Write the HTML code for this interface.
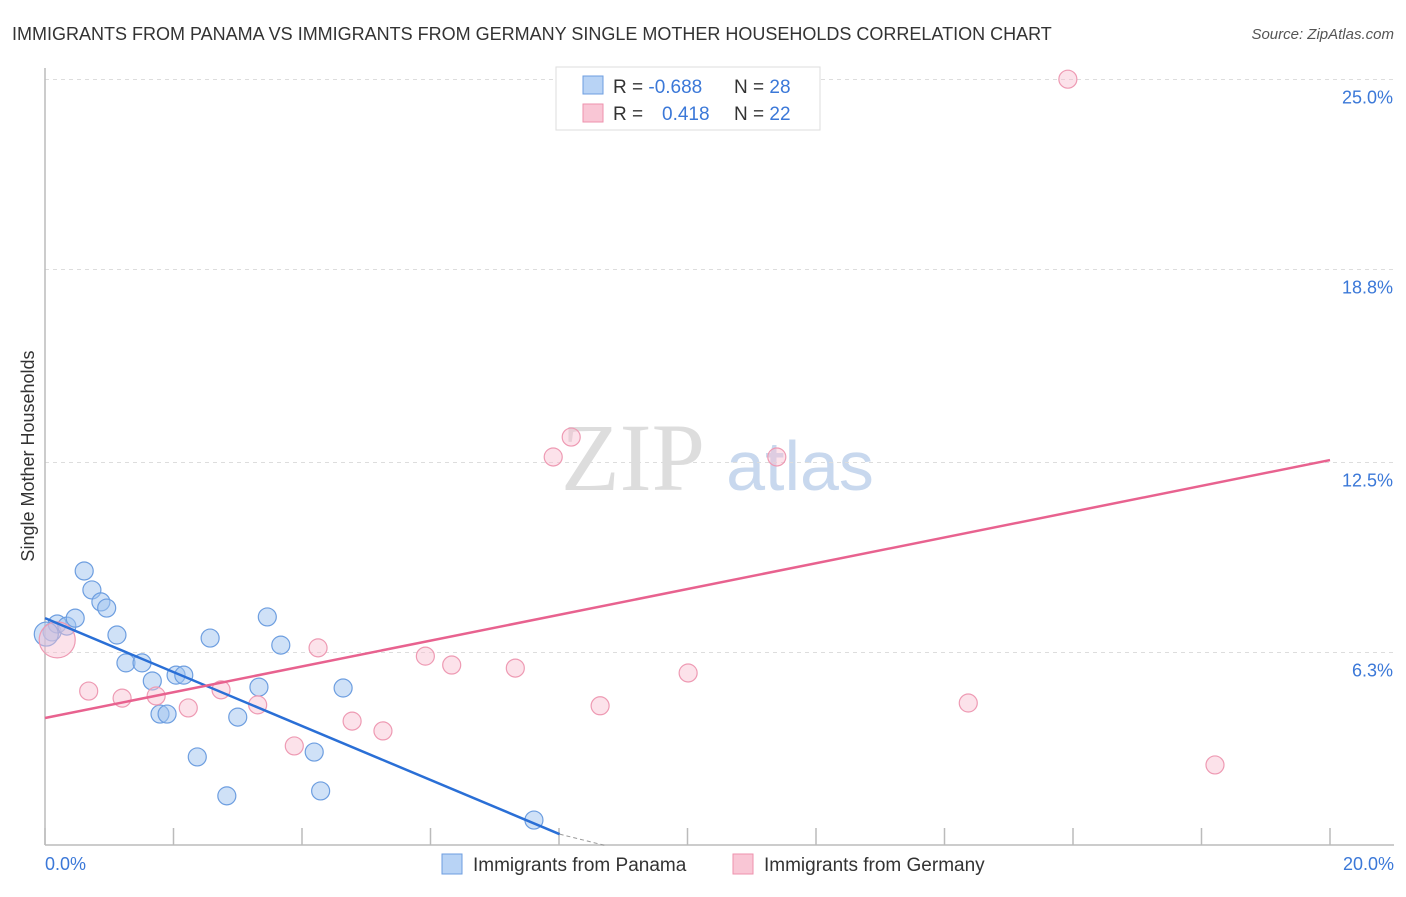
<!DOCTYPE html>
<html><head><meta charset="utf-8"><style>
body{margin:0;background:#fff;font-family:"Liberation Sans",sans-serif}
</style></head><body>
<svg width="1406" height="892" xmlns="http://www.w3.org/2000/svg" font-family="Liberation Sans, sans-serif">
<text x="12" y="40" font-size="18" fill="#333">IMMIGRANTS FROM PANAMA VS IMMIGRANTS FROM GERMANY SINGLE MOTHER HOUSEHOLDS CORRELATION CHART</text>
<text x="1394" y="39" font-size="15" fill="#555" font-style="italic" text-anchor="end">Source: ZipAtlas.com</text>
<text x="633" y="490" font-size="96" fill="#ddd" font-family="Liberation Serif, serif" text-anchor="middle">ZIP</text>
<text x="800" y="490" font-size="70" fill="#c8d8ee" text-anchor="middle">atlas</text>
<g id="grid"></g><g id="axes"></g><g id="pts"></g><g id="lines"></g>
<text transform="translate(34,456) rotate(-90)" font-size="18" fill="#333" text-anchor="middle">Single Mother Households</text>
<text x="45" y="870" font-size="18" fill="#3b78d8">0.0%</text>
<text x="1394" y="870" font-size="18" fill="#3b78d8" text-anchor="end">20.0%</text>
<g>
<rect x="556" y="67" width="264" height="63" fill="#fff" stroke="#ddd"/>
<rect x="583" y="76" width="20" height="18" fill="#b8d3f5" stroke="#6d9ee0"/>
<rect x="583" y="104" width="20" height="18" fill="#f9c6d5" stroke="#ee92ad"/>
<text x="613" y="93" font-size="19" fill="#333">R = <tspan fill="#3b78d8">-0.688</tspan><tspan x="734">N = </tspan><tspan fill="#3b78d8">28</tspan></text>
<text x="613" y="120" font-size="19" fill="#333">R = <tspan x="662" fill="#3b78d8">0.418</tspan><tspan x="734">N = </tspan><tspan fill="#3b78d8">22</tspan></text>
</g>
<g>
<rect x="442" y="854" width="20" height="20" fill="#b8d3f5" stroke="#6d9ee0"/>
<text x="473" y="871" font-size="19" fill="#333">Immigrants from Panama</text>
<rect x="733" y="854" width="20" height="20" fill="#f9c6d5" stroke="#ee92ad"/>
<text x="764" y="871" font-size="19" fill="#333">Immigrants from Germany</text>
</g>
</svg>
<script>
const yTicks=[25.0,18.8,12.5,6.3];
const yTickLabels=["25.0%","18.8%","12.5%","6.3%"];
const xTicks=[0,2,4,6,8,10,12,14,16,18,20];
const panamaX=[0.11,0.19,0.34,0.47,0.61,0.73,0.87,0.96,1.12,1.26,1.51,1.67,1.79,1.90,2.04,2.16,2.37,2.57,2.83,3.00,3.33,3.46,3.67,4.19,4.29,4.64,7.61,0.02];
const panamaY=[6.97,7.23,7.16,7.42,8.96,8.34,7.95,7.75,6.87,5.96,5.96,5.37,4.29,4.29,5.56,5.56,2.89,6.77,1.62,4.19,5.17,7.46,6.54,3.05,1.78,5.14,0.83,6.9];
const germanyX=[0.19,0.68,1.20,1.73,2.23,2.74,3.31,3.88,4.25,4.78,5.26,5.92,6.33,7.32,7.91,8.19,8.64,10.01,11.39,14.37,15.92,18.21];
const germanyY=[6.71,5.04,4.81,4.88,4.49,5.08,4.59,3.25,6.45,4.06,3.74,6.18,5.89,5.79,12.68,13.33,4.56,5.63,12.68,4.65,25.01,2.63];
const panamaTrend=[[0,7.42],[8.01,0.37]];
const panamaTrendExt=[[8.01,0.37],[8.72,0.0]];
const germanyTrend=[[0,4.16],[20,12.58]];
const NS="http://www.w3.org/2000/svg";
const X=v=>45+v/20*1285, Y=v=>845.5-v*30.64;
function mk(t,a,p){const e=document.createElementNS(NS,t);for(const k in a)e.setAttribute(k,a[k]);p.appendChild(e);return e;}
const grid=document.getElementById('grid'),axes=document.getElementById('axes'),pts=document.getElementById('pts'),lines=document.getElementById('lines');
yTicks.forEach((v,i)=>{
const g=mk('line',{x1:45,x2:1394,y1:Y(v),y2:Y(v),stroke:'#ddd','stroke-dasharray':'4,4'},grid);


const t=mk('text',{x:1393,y:Y(v)+24,'font-size':18,fill:'#3b78d8','text-anchor':'end'},grid);
t.textContent=yTickLabels[i];


});
const ya=mk('line',{x1:45,x2:45,y1:68,y2:845,stroke:'#bbb','stroke-width':1.5},axes);


const xa=mk('line',{x1:45,x2:1394,y1:845,y2:845,stroke:'#bbb','stroke-width':1.5},axes);


xTicks.forEach(v=>{const t=mk('line',{x1:X(v),x2:X(v),y1:828,y2:845,stroke:'#bbb','stroke-width':1.5},axes);

});
panamaX.forEach((x,i)=>{const r=i===27?12:9;const c=mk('circle',{cx:X(x),cy:Y(panamaY[i]),r:r,fill:'rgba(160,195,240,0.5)',stroke:'#6d9ee0','stroke-width':1.2},pts);

});
germanyX.forEach((x,i)=>{const r=i===0?18:9;const c=mk('circle',{cx:X(x),cy:Y(germanyY[i]),r:r,fill:'rgba(248,190,208,0.45)',stroke:'#ee9ab3','stroke-width':1.2},pts);

});
function ln(p,st,dash,name){const l=mk('line',{x1:X(p[0][0]),y1:Y(p[0][1]),x2:X(p[1][0]),y2:Y(p[1][1]),stroke:st,'stroke-width':dash?1:2.5},lines);if(dash)l.setAttribute('stroke-dasharray','4,3');

}
ln(panamaTrend,'#2a6fd6',false,'panama-trend-line');
ln(panamaTrendExt,'#999',true,'panama-trend-extension');
ln(germanyTrend,'#e8628f',false,'germany-trend-line');
</script>
</body></html>
